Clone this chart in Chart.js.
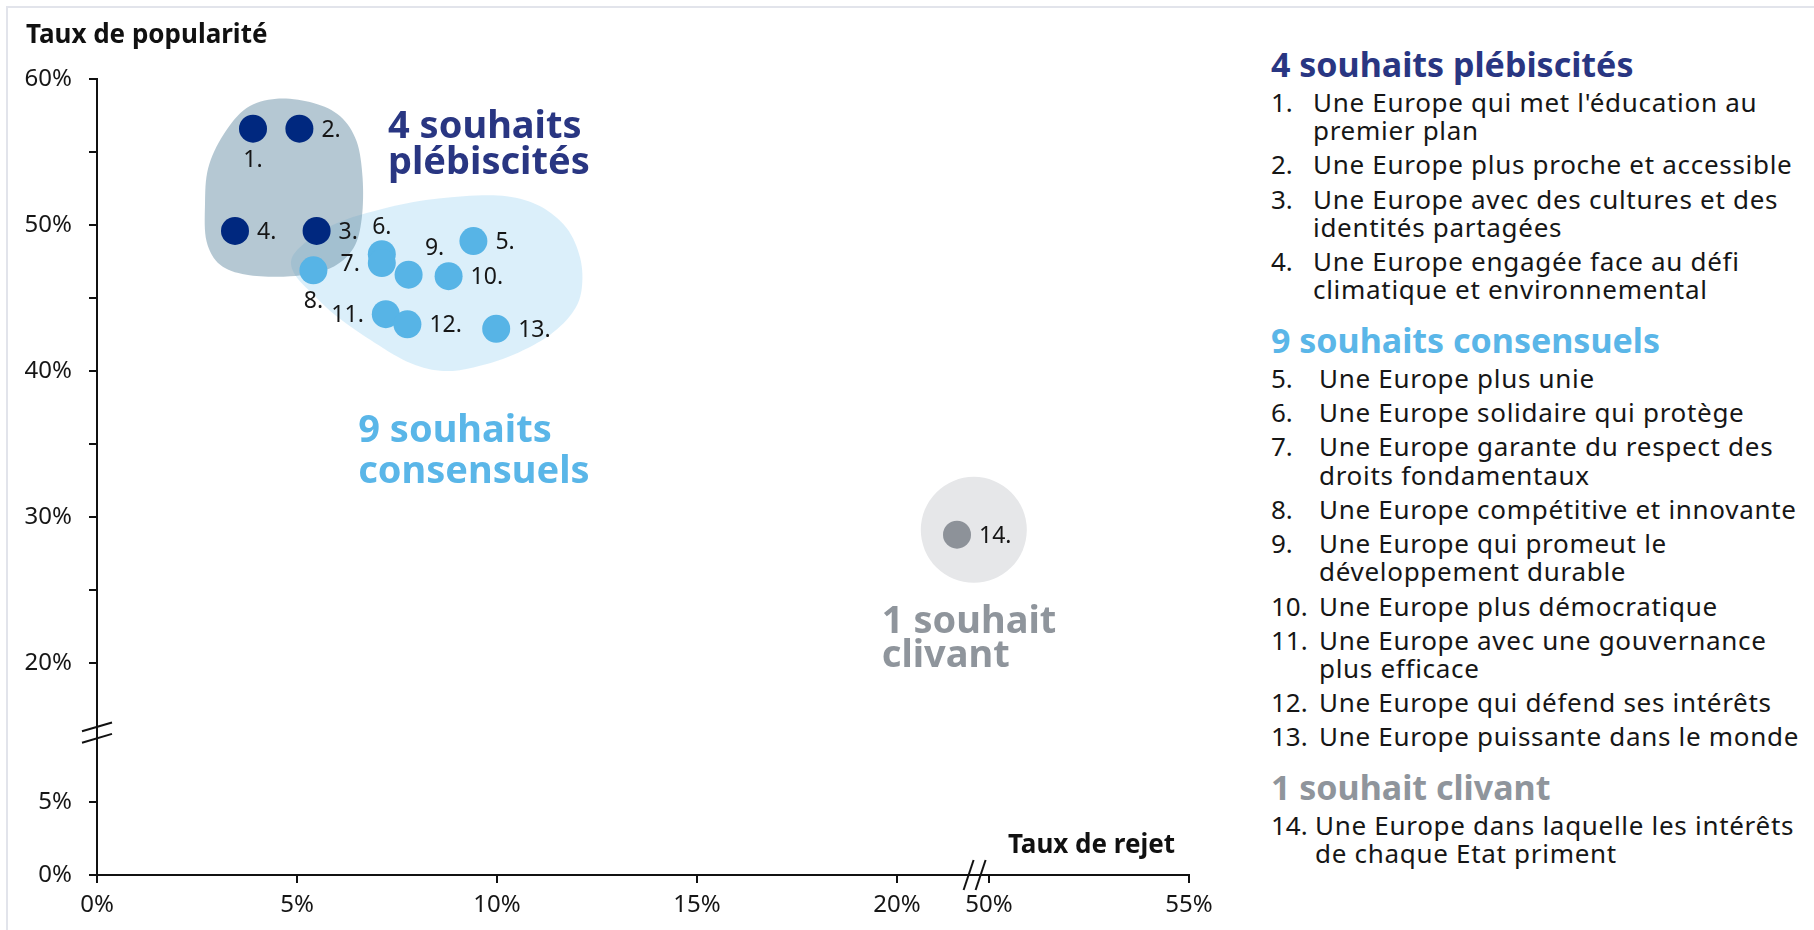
<!DOCTYPE html>
<html lang="fr">
<head>
<meta charset="utf-8">
<title>Souhaits pour l'Europe</title>
<script src="https://cdn.jsdelivr.net/npm/chart.js@4.4.1/dist/chart.umd.min.js"></script>
<style>
  html, body { margin: 0; padding: 0; background: #fff; }
  body { width: 1814px; height: 930px; overflow: hidden; position: relative; font-family: "Noto Sans", sans-serif; }
  .frame { position: absolute; left: 6px; top: 6px; width: 1900px; height: 1000px;
           border-top: 2px solid #e2e4eb; border-left: 2px solid #e2e4eb; }
  #wrap { position: absolute; left: 0; top: 0; width: 1240px; height: 930px; }
  #side { position: absolute; left: 1271px; top: 46px; color: #161616; }
  .head { font-weight: 700; font-size: 34px; line-height: 36px; margin: 18.5px 0 5px; white-space: nowrap; }
  .head:first-child { margin-top: 0; }
  .item { display: flex; font-size: 26px; letter-spacing: 0.7px; line-height: 28.3px; margin-top: 5.9px; white-space: pre; }
  .num { flex: none; letter-spacing: 0; }
</style>
</head>
<body>
<div class="frame"></div>
<div id="wrap"><canvas id="chart"></canvas></div>
<div id="side"></div>
<script>
// données (taux en %)
const wishNumbers = [1, 2, 3, 4, 5, 6, 7, 8, 9, 10, 11, 12, 13, 14];
const rejectRate = [3.9, 5.06, 5.49, 3.45, 9.41, 7.12, 7.12, 5.41, 7.79, 8.79, 7.22, 7.76, 9.98, 49.2];
const popularityRate = [56.6, 56.6, 49.6, 49.6, 48.9, 48.0, 47.4, 46.9, 46.6, 46.5, 43.9, 43.2, 42.9, 28.8];
const wishGroup = [0, 0, 0, 0, 1, 1, 1, 1, 1, 1, 1, 1, 1, 2];

const groupTitles = ["4 souhaits plébiscités", "9 souhaits consensuels", "1 souhait clivant"];
const wishTexts = [
  "Une Europe qui met l'éducation au\npremier plan",
  "Une Europe plus proche et accessible",
  "Une Europe avec des cultures et des\nidentités partagées",
  "Une Europe engagée face au défi\nclimatique et environnemental",
  "Une Europe plus unie",
  "Une Europe solidaire qui protège",
  "Une Europe garante du respect des\ndroits fondamentaux",
  "Une Europe compétitive et innovante",
  "Une Europe qui promeut le\ndéveloppement durable",
  "Une Europe plus démocratique",
  "Une Europe avec une gouvernance\nplus efficace",
  "Une Europe qui défend ses intérêts",
  "Une Europe puissante dans le monde",
  "Une Europe dans laquelle les intérêts\nde chaque Etat priment",
];

const xTickValues = [0, 5, 10, 15, 20, 50, 55];
const yTickValues = [0, 5, 20, 30, 40, 50, 60];
const yMinorTickValues = [25, 35, 45, 55];

// contours des zones (taux de rejet, taux de popularité)
const blobPlebRejet = [4.49, 5.41, 6.08, 6.49, 6.64, 6.62, 6.41, 5.83, 4.83, 3.74, 3.08, 2.74, 2.70, 2.78, 3.16, 3.74];
const blobPlebPop = [58.65, 58.36, 57.45, 55.73, 53.22, 50.48, 48.42, 47.05, 46.49, 46.60, 47.28, 48.88, 51.39, 53.90, 56.18, 58.01];
const blobConsRejet = [4.87, 5.24, 5.91, 6.74, 7.91, 9.16, 10.24, 11.08, 11.74, 12.08, 12.12, 11.91, 11.33, 10.41, 9.41, 8.58, 7.74, 6.83, 5.99, 5.41, 4.95];
const blobConsPop = [47.74, 48.88, 50.02, 50.82, 51.58, 51.97, 51.97, 51.28, 49.79, 47.74, 45.68, 44.09, 42.49, 41.12, 40.25, 40.02, 40.66, 42.14, 43.75, 45.23, 46.60];
const blobCliv = { rejet: 49.62, pop: 29.13 };

// axes coupés : décalage appliqué au-delà de la coupure
const X_GAP = 27.7;
const Y_GAP = 5.5;
const xDisp = (v) => (v > 30 ? v - X_GAP : v);
const yDisp = (v) => (v > 12 ? v - Y_GAP : v);
const xReal = (d) => (d > 21 ? d + X_GAP : d);
const yReal = (d) => (d > 9.8 ? d + Y_GAP : d);

const FONT = "'Noto Sans', sans-serif";
const dotColors = ["#00287f", "#57b4e6", "#8d9299"];
const titleColors = ["#293682", "#5ab6e8", "#8f959c"];

const labelPlacement = {
  1: "below", 2: "right", 3: "right", 4: "right", 5: "right", 6: "above", 7: "left",
  8: "below", 9: "aboveRight", 10: "right", 11: "left", 12: "right", 13: "right", 14: "right",
};

function smoothClosed(ctx, pts) {
  const n = pts.length;
  ctx.moveTo(pts[0].x, pts[0].y);
  for (let i = 0; i < n; i++) {
    const p0 = pts[(i - 1 + n) % n], p1 = pts[i], p2 = pts[(i + 1) % n], p3 = pts[(i + 2) % n];
    ctx.bezierCurveTo(
      p1.x + (p2.x - p0.x) / 6, p1.y + (p2.y - p0.y) / 6,
      p2.x - (p3.x - p1.x) / 6, p2.y - (p3.y - p1.y) / 6,
      p2.x, p2.y
    );
  }
  ctx.closePath();
}

const annotations = {
  id: "annotations",
  beforeDatasetsDraw(chart) {
    const { ctx, scales: { x, y } } = chart;
    const toPx = (rs, ps) => rs.map((r, i) => ({ x: x.getPixelForValue(xDisp(r)), y: y.getPixelForValue(yDisp(ps[i])) }));
    ctx.save();
    ctx.beginPath();
    smoothClosed(ctx, toPx(blobConsRejet, blobConsPop));
    ctx.fillStyle = "rgba(86,180,230,0.21)";
    ctx.fill();
    ctx.beginPath();
    smoothClosed(ctx, toPx(blobPlebRejet, blobPlebPop));
    ctx.fillStyle = "rgba(108,146,168,0.5)";
    ctx.fill();
    ctx.beginPath();
    ctx.arc(x.getPixelForValue(xDisp(blobCliv.rejet)), y.getPixelForValue(yDisp(blobCliv.pop)), 53, 0, Math.PI * 2);
    ctx.fillStyle = "#e6e7e9";
    ctx.fill();
    ctx.restore();
  },
  afterDatasetsDraw(chart) {
    const { ctx, scales: { x, y } } = chart;
    ctx.save();
    // numéros des points
    ctx.font = `23px ${FONT}`;
    ctx.fillStyle = "#161616";
    ctx.textBaseline = "alphabetic";
    chart.data.datasets.forEach((ds, di) => {
      chart.getDatasetMeta(di).data.forEach((pt, j) => {
        const n = ds.data[j].n;
        const txt = n + ".";
        const pos = labelPlacement[n];
        let tx = pt.x, ty = pt.y + 8;
        ctx.textAlign = "left";
        if (pos === "right") tx = pt.x + 22;
        else if (pos === "left") { tx = pt.x - 22; ctx.textAlign = "right"; }
        else if (pos === "below") { ctx.textAlign = "center"; ty = pt.y + 38; }
        else if (pos === "above") { ctx.textAlign = "center"; ty = pt.y - 20; }
        else if (pos === "aboveRight") { ctx.textAlign = "center"; tx = pt.x + 26; ty = pt.y - 20; }
        ctx.fillText(txt, tx, ty);
      });
    });
    // titres des groupes dans le graphique
    const groupLabels = [
      { lines: ["4 souhaits", "plébiscités"], rejet: 7.275, pop: 55.96, gap: 36 },
      { lines: ["9 souhaits", "consensuels"], rejet: 6.53, pop: 35.18, gap: 41 },
      { lines: ["1 souhait", "clivant"], rejet: 19.62, pop: 22.05, gap: 34 },
    ];
    ctx.font = `700 38px ${FONT}`;
    ctx.textAlign = "left";
    groupLabels.forEach((g, gi) => {
      ctx.fillStyle = titleColors[gi];
      const gx = x.getPixelForValue(xDisp(g.rejet));
      const gy = y.getPixelForValue(yDisp(g.pop));
      g.lines.forEach((line, li) => ctx.fillText(line, gx, gy + li * g.gap));
    });
    ctx.restore();
  },
  afterDraw(chart) {
    const { ctx, chartArea, scales: { x, y } } = chart;
    ctx.save();
    ctx.fillStyle = "#111";
    ctx.font = `700 26px ${FONT}`;
    ctx.textBaseline = "alphabetic";
    ctx.textAlign = "left";
    ctx.fillText("Taux de popularité", 26, 43);
    ctx.textAlign = "right";
    ctx.fillText("Taux de rejet", 1175, chartArea.bottom - 22);
    // marques de coupure des axes
    ctx.strokeStyle = "#111";
    ctx.lineWidth = 2;
    const yb = y.getPixelForValue(9.75);
    [-5.7, 5.7].forEach((d) => {
      ctx.beginPath();
      ctx.moveTo(chartArea.left - 15, yb + d + 4.4);
      ctx.lineTo(chartArea.left + 15, yb + d - 4.4);
      ctx.stroke();
    });
    const xb = x.getPixelForValue(21.94);
    [-6, 6].forEach((d) => {
      ctx.beginPath();
      ctx.moveTo(xb + d - 5, chartArea.bottom + 15);
      ctx.lineTo(xb + d + 5, chartArea.bottom - 15);
      ctx.stroke();
    });
    ctx.restore();
  },
};

const datasets = [0, 1, 2].map((g) => ({
  label: groupTitles[g],
  data: wishNumbers
    .map((n, i) => ({ x: xDisp(rejectRate[i]), y: yDisp(popularityRate[i]), n, g: wishGroup[i] }))
    .filter((p) => p.g === g),
  backgroundColor: dotColors[g],
  borderWidth: 0,
  pointRadius: 14,
  pointHoverRadius: 14,
}));

const axisGrid = { drawOnChartArea: false, drawTicks: true, tickLength: 8, color: "#111", lineWidth: 2 };
const axisBorder = { display: true, color: "#111", width: 2 };

new Chart(document.getElementById("chart"), {
  type: "scatter",
  data: { datasets },
  options: {
    animation: false,
    responsive: true,
    maintainAspectRatio: false,
    layout: { padding: { top: 79, right: 51, left: 0, bottom: 0 } },
    plugins: { legend: { display: false }, tooltip: { enabled: false } },
    scales: {
      x: {
        type: "linear",
        min: 0,
        max: xDisp(55),
        afterBuildTicks: (s) => { s.ticks = xTickValues.map((v) => ({ value: xDisp(v) })); },
        afterFit: (s) => { s.height = 55; },
        grid: axisGrid,
        border: axisBorder,
        ticks: {
          padding: 8,
          maxRotation: 0,
          autoSkip: false,
          color: "#161616",
          font: { family: FONT, size: 24 },
          callback: (v) => Math.round(xReal(v)) + "%",
        },
      },
      y: {
        type: "linear",
        min: 0,
        max: yDisp(60),
        afterBuildTicks: (s) => {
          s.ticks = yTickValues.concat(yMinorTickValues).sort((a, b) => a - b).map((v) => ({ value: yDisp(v) }));
        },
        afterFit: (s) => { s.width = 97; },
        grid: axisGrid,
        border: axisBorder,
        ticks: {
          padding: 17,
          autoSkip: false,
          color: "#161616",
          font: { family: FONT, size: 24 },
          callback: (v) => {
            const r = Math.round(yReal(v));
            return yTickValues.includes(r) ? r + "%" : "";
          },
        },
      },
    },
  },
  plugins: [annotations],
});

// liste des souhaits à droite
const side = document.getElementById("side");
const numWidths = [42, 48, 44];
groupTitles.forEach((title, g) => {
  const h = document.createElement("div");
  h.className = "head";
  h.style.color = titleColors[g];
  h.textContent = title;
  side.appendChild(h);
  wishNumbers.forEach((n, i) => {
    if (wishGroup[i] !== g) return;
    const row = document.createElement("div");
    row.className = "item";
    row.innerHTML = `<span class="num" style="width:${numWidths[g]}px">${n}.</span><span class="txt"></span>`;
    row.querySelector(".txt").textContent = wishTexts[i];
    side.appendChild(row);
  });
});
</script>
</body>
</html>
